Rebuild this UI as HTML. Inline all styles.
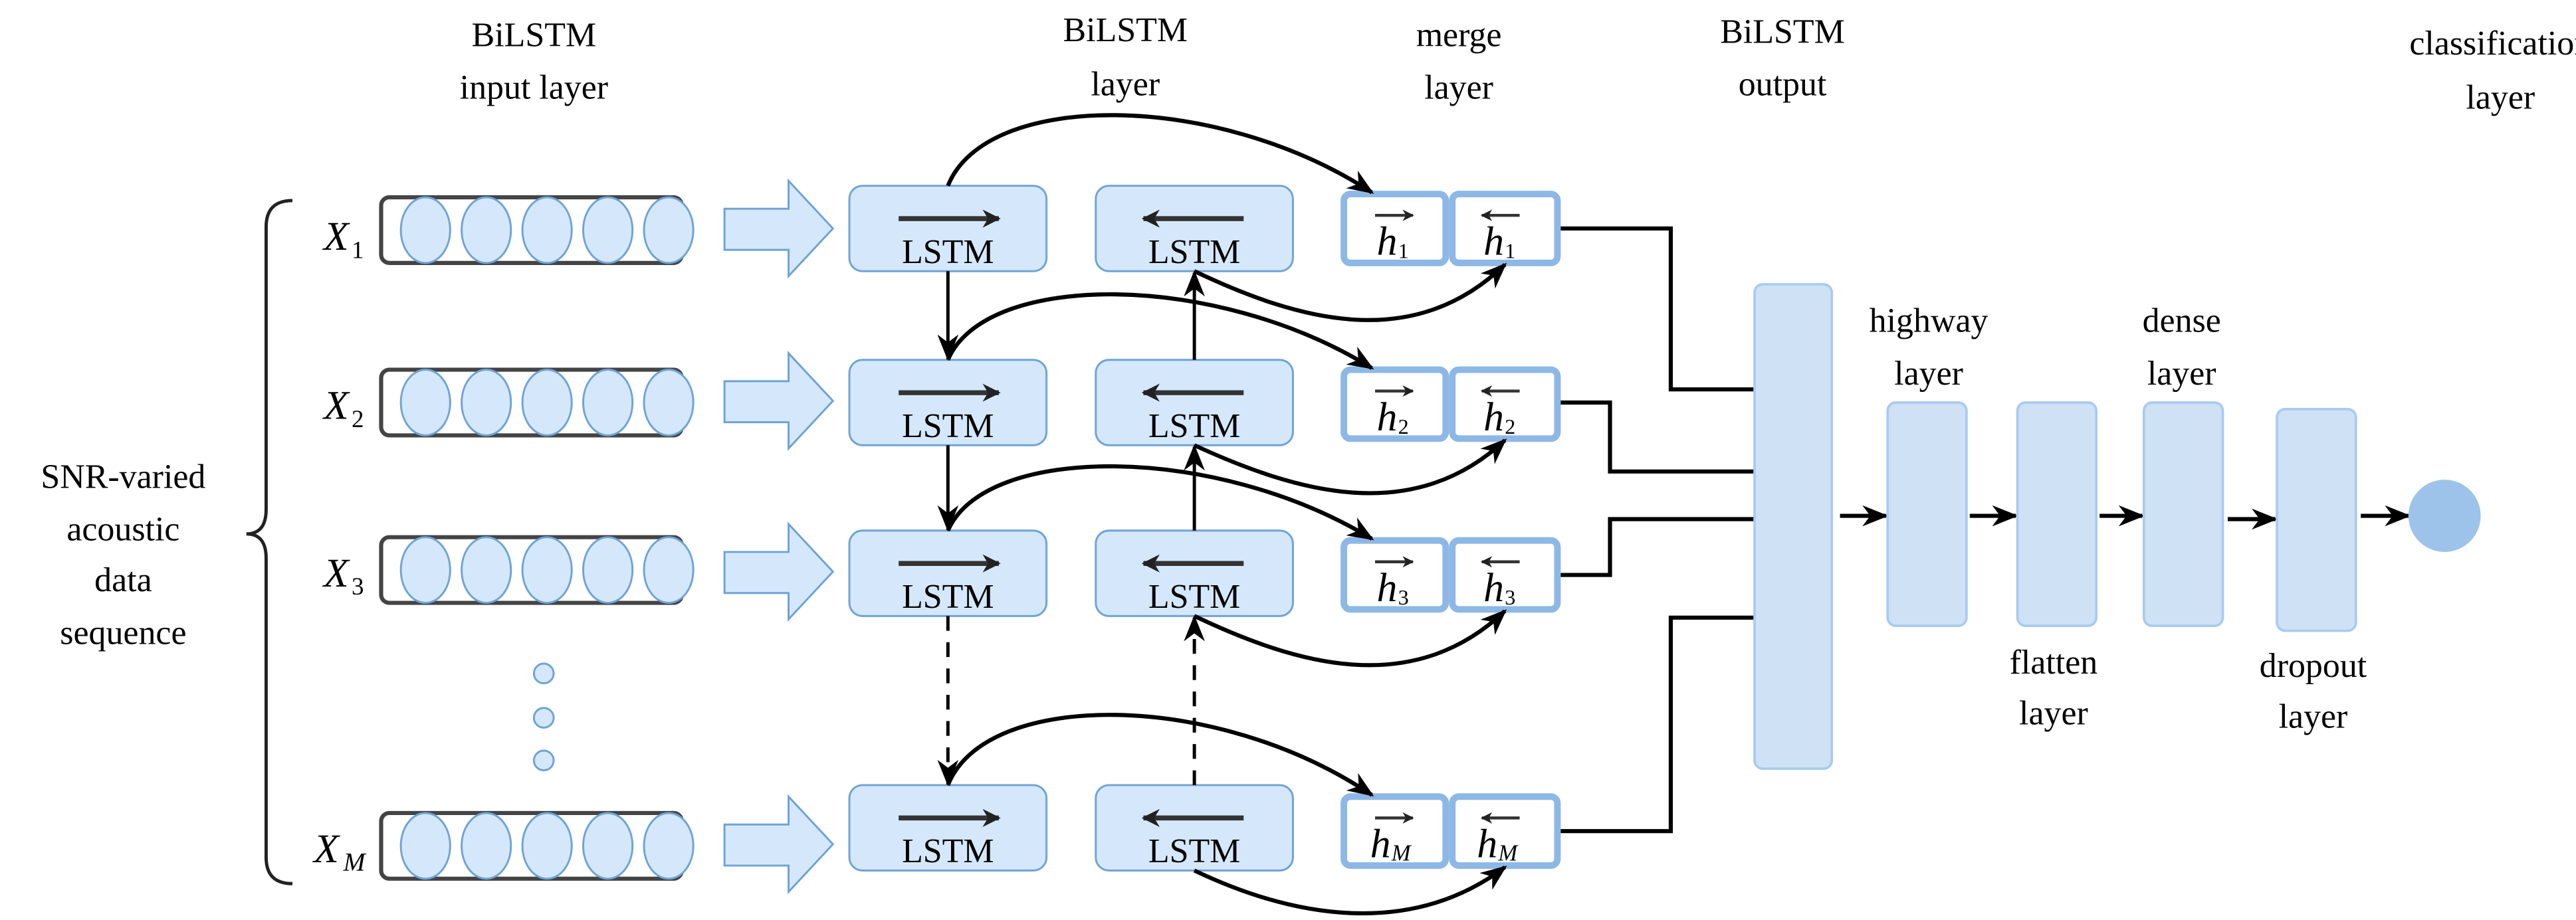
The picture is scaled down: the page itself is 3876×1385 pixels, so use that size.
<!DOCTYPE html>
<html><head><meta charset="utf-8"><style>html,body{margin:0;padding:0;background:#fff}svg{display:block}svg text{font-family:"Liberation Serif",serif}</style></head>
<body>
<svg width="3876" height="1385" viewBox="0 0 1568 560" xmlns="http://www.w3.org/2000/svg">
<defs>
<marker id="a" viewBox="0 0 10 10" refX="9" refY="5" markerWidth="7" markerHeight="7" orient="auto-start-reverse" markerUnits="userSpaceOnUse"><path d="M0,0 L10,5 L0,10 L3,5 z" fill="#222"/></marker>
<marker id="b" viewBox="0 0 10 10" refX="9" refY="5" markerWidth="16" markerHeight="16" orient="auto" markerUnits="userSpaceOnUse"><path d="M0,1 L10,5 L0,9 L3,5 z" fill="#000"/></marker>
<marker id="s" viewBox="0 0 10 10" refX="9" refY="5" markerWidth="11" markerHeight="11" orient="auto" markerUnits="userSpaceOnUse"><path d="M0,0 L10,5 L0,10 L3,5 z" fill="#222"/></marker>
</defs>
<g font-size="21" text-anchor="middle" fill="#000">
<text x="325" y="28">BiLSTM</text><text x="325" y="60">input layer</text>
<text x="685" y="25">BiLSTM</text><text x="685" y="58">layer</text>
<text x="888" y="28">merge</text><text x="888" y="60">layer</text>
<text x="1085" y="26">BiLSTM</text><text x="1085" y="58">output</text>
<text x="1522" y="33">classification</text><text x="1522" y="66">layer</text>
<text x="75" y="297">SNR-varied</text><text x="75" y="329">acoustic</text><text x="75" y="360">data</text><text x="75" y="392">sequence</text>
<text x="1174" y="202">highway</text><text x="1174" y="234">layer</text>
<text x="1328" y="202">dense</text><text x="1328" y="234">layer</text>
<text x="1250" y="410">flatten</text><text x="1250" y="441">layer</text>
<text x="1408" y="412">dropout</text><text x="1408" y="443">layer</text>
</g>
<path d="M178,122 Q162,122 162,138 L162,310 Q162,325 150,325 Q162,325 162,340 L162,522 Q162,538 178,538" fill="none" stroke="#222" stroke-width="2"/>
<g font-size="25" font-style="italic">
<text x="197" y="152">X</text><text x="214" y="157" font-size="15" font-style="normal">1</text>
<text x="197" y="255">X</text><text x="214" y="260" font-size="15" font-style="normal">2</text>
<text x="197" y="357">X</text><text x="214" y="362" font-size="15" font-style="normal">3</text>
<text x="191" y="525">X</text><text x="209" y="530" font-size="16">M</text>
</g>
<g fill="#d5e8fb" stroke="#6fa3d6" stroke-width="1.2">
<g><rect x="232" y="120" width="183" height="40" rx="5" fill="#fff" stroke="#444" stroke-width="2.5"/><ellipse cx="259" cy="140" rx="15" ry="20"/><ellipse cx="296" cy="140" rx="15" ry="20"/><ellipse cx="333" cy="140" rx="15" ry="20"/><ellipse cx="370" cy="140" rx="15" ry="20"/><ellipse cx="407" cy="140" rx="15" ry="20"/></g>
<g transform="translate(0,105)"><rect x="232" y="120" width="183" height="40" rx="5" fill="#fff" stroke="#444" stroke-width="2.5"/><ellipse cx="259" cy="140" rx="15" ry="20"/><ellipse cx="296" cy="140" rx="15" ry="20"/><ellipse cx="333" cy="140" rx="15" ry="20"/><ellipse cx="370" cy="140" rx="15" ry="20"/><ellipse cx="407" cy="140" rx="15" ry="20"/></g>
<g transform="translate(0,207)"><rect x="232" y="120" width="183" height="40" rx="5" fill="#fff" stroke="#444" stroke-width="2.5"/><ellipse cx="259" cy="140" rx="15" ry="20"/><ellipse cx="296" cy="140" rx="15" ry="20"/><ellipse cx="333" cy="140" rx="15" ry="20"/><ellipse cx="370" cy="140" rx="15" ry="20"/><ellipse cx="407" cy="140" rx="15" ry="20"/></g>
<g transform="translate(0,375)"><rect x="232" y="120" width="183" height="40" rx="5" fill="#fff" stroke="#444" stroke-width="2.5"/><ellipse cx="259" cy="140" rx="15" ry="20"/><ellipse cx="296" cy="140" rx="15" ry="20"/><ellipse cx="333" cy="140" rx="15" ry="20"/><ellipse cx="370" cy="140" rx="15" ry="20"/><ellipse cx="407" cy="140" rx="15" ry="20"/></g>
<circle cx="331" cy="410" r="6"/><circle cx="331" cy="437" r="6"/><circle cx="331" cy="463" r="6"/>
<path d="M441,127 L480,127 L480,110 L507,139 L480,168 L480,152 L441,152 z"/>
<path d="M441,232 L480,232 L480,215 L507,244 L480,273 L480,257 L441,257 z"/>
<path d="M441,336 L480,336 L480,319 L507,348 L480,377 L480,361 L441,361 z"/>
<path d="M441,502 L480,502 L480,485 L507,514 L480,543 L480,527 L441,527 z"/>
<rect x="517" y="113" width="120" height="52" rx="8"/><rect x="667" y="113" width="120" height="52" rx="8"/>
<rect x="517" y="219" width="120" height="52" rx="8"/><rect x="667" y="219" width="120" height="52" rx="8"/>
<rect x="517" y="323" width="120" height="52" rx="8"/><rect x="667" y="323" width="120" height="52" rx="8"/>
<rect x="517" y="478" width="120" height="52" rx="8"/><rect x="667" y="478" width="120" height="52" rx="8"/>
</g>
<g font-size="21" text-anchor="middle">
<text x="577" y="160">LSTM</text><text x="727" y="160">LSTM</text>
<text x="577" y="266">LSTM</text><text x="727" y="266">LSTM</text>
<text x="577" y="370">LSTM</text><text x="727" y="370">LSTM</text>
<text x="577" y="525">LSTM</text><text x="727" y="525">LSTM</text>
</g>
<g stroke="#333" stroke-width="3">
<line x1="547" y1="133" x2="608" y2="133" marker-end="url(#s)"/><line x1="757" y1="133" x2="696" y2="133" marker-end="url(#s)"/>
<line x1="547" y1="239" x2="608" y2="239" marker-end="url(#s)"/><line x1="757" y1="239" x2="696" y2="239" marker-end="url(#s)"/>
<line x1="547" y1="343" x2="608" y2="343" marker-end="url(#s)"/><line x1="757" y1="343" x2="696" y2="343" marker-end="url(#s)"/>
<line x1="547" y1="498" x2="608" y2="498" marker-end="url(#s)"/><line x1="757" y1="498" x2="696" y2="498" marker-end="url(#s)"/>
</g>
<g fill="#fff" stroke="#8db8e6" stroke-width="4">
<rect x="818" y="118" width="62" height="42" rx="4"/><rect x="884" y="118" width="64" height="42" rx="4"/>
<rect x="818" y="225" width="62" height="42" rx="4"/><rect x="884" y="225" width="64" height="42" rx="4"/>
<rect x="818" y="329" width="62" height="42" rx="4"/><rect x="884" y="329" width="64" height="42" rx="4"/>
<rect x="818" y="485" width="62" height="42" rx="4"/><rect x="884" y="485" width="64" height="42" rx="4"/>
</g>
<g font-size="25" font-style="italic">
<text x="838" y="155">h</text><text x="851" y="157" font-size="13" font-style="normal">1</text><text x="903" y="155">h</text><text x="916" y="157" font-size="13" font-style="normal">1</text>
<text x="838" y="262">h</text><text x="851" y="264" font-size="13" font-style="normal">2</text><text x="903" y="262">h</text><text x="916" y="264" font-size="13" font-style="normal">2</text>
<text x="838" y="366">h</text><text x="851" y="368" font-size="13" font-style="normal">3</text><text x="903" y="366">h</text><text x="916" y="368" font-size="13" font-style="normal">3</text>
<text x="834" y="522">h</text><text x="847" y="524" font-size="14">M</text><text x="899" y="522">h</text><text x="912" y="524" font-size="14">M</text>
</g>
<g stroke="#333" stroke-width="1.8" fill="none">
<line x1="837" y1="131" x2="860" y2="131" marker-end="url(#a)"/><line x1="925" y1="131" x2="902" y2="131" marker-end="url(#a)"/>
<line x1="837" y1="238" x2="860" y2="238" marker-end="url(#a)"/><line x1="925" y1="238" x2="902" y2="238" marker-end="url(#a)"/>
<line x1="837" y1="342" x2="860" y2="342" marker-end="url(#a)"/><line x1="925" y1="342" x2="902" y2="342" marker-end="url(#a)"/>
<line x1="837" y1="498" x2="860" y2="498" marker-end="url(#a)"/><line x1="925" y1="498" x2="902" y2="498" marker-end="url(#a)"/>
</g>
<g stroke="#000" stroke-width="2.5" fill="none">
<path d="M577,113 C600,55 740,55 835,117" marker-end="url(#b)"/>
<path d="M577,219 C600,165 740,165 835,224" marker-end="url(#b)"/>
<path d="M577,323 C600,270 740,270 835,328" marker-end="url(#b)"/>
<path d="M577,478 C600,420 740,420 835,484" marker-end="url(#b)"/>
<path d="M727,165 C790,195 860,215 916,161" marker-end="url(#b)"/>
<path d="M727,271 C790,300 860,320 916,268" marker-end="url(#b)"/>
<path d="M727,375 C790,405 860,425 916,372" marker-end="url(#b)"/>
<path d="M727,530 C790,560 860,570 916,528" marker-end="url(#b)"/>
<line x1="577" y1="165" x2="577" y2="218" stroke-width="2" marker-end="url(#b)"/>
<line x1="577" y1="271" x2="577" y2="322" stroke-width="2" marker-end="url(#b)"/>
<line x1="577" y1="375" x2="577" y2="477" stroke-width="2" stroke-dasharray="9,7" marker-end="url(#b)"/>
<line x1="727" y1="219" x2="727" y2="166" stroke-width="2" marker-end="url(#b)"/>
<line x1="727" y1="323" x2="727" y2="272" stroke-width="2" marker-end="url(#b)"/>
<line x1="727" y1="478" x2="727" y2="376" stroke-width="2" stroke-dasharray="9,7" marker-end="url(#b)"/>
<polyline points="950,139 1017,139 1017,237 1068,237"/>
<polyline points="950,245 980,245 980,287 1068,287"/>
<polyline points="950,350 980,350 980,316 1068,316"/>
<polyline points="950,506 1017,506 1017,376 1068,376"/>
<line x1="1120" y1="314" x2="1148" y2="314" marker-end="url(#b)"/>
<line x1="1199" y1="314" x2="1227" y2="314" marker-end="url(#b)"/>
<line x1="1278" y1="314" x2="1304" y2="314" marker-end="url(#b)"/>
<line x1="1356" y1="316" x2="1385" y2="316" marker-end="url(#b)"/>
<line x1="1437" y1="314" x2="1466" y2="314" marker-end="url(#b)"/>
</g>
<g fill="#cfe1f5" stroke="#a9cbef" stroke-width="1.5">
<rect x="1068" y="173" width="47" height="295" rx="5"/>
<rect x="1149" y="245" width="48" height="136" rx="5"/>
<rect x="1228" y="245" width="48" height="136" rx="5"/>
<rect x="1305" y="245" width="48" height="136" rx="5"/>
<rect x="1386" y="249" width="48" height="135" rx="5"/>
</g>
<circle cx="1488" cy="314" r="22" fill="#9dc3ea"/>
</svg>
</body></html>
